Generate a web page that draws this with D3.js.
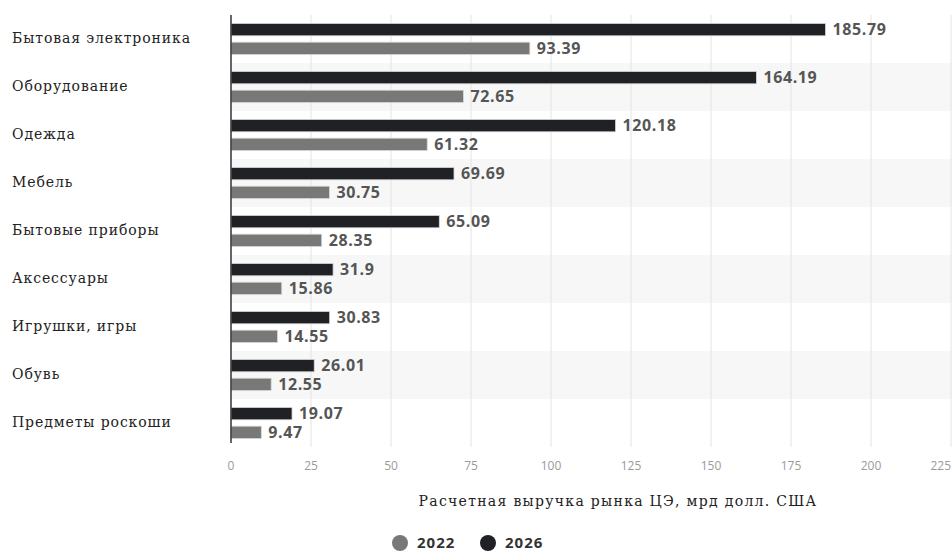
<!DOCTYPE html>
<html><head><meta charset="utf-8">
<script src="https://cdn.jsdelivr.net/npm/d3@7"></script>
<style>body{margin:0;background:#fff}svg{display:block}</style>
</head><body>
<svg id="c" width="952" height="554"></svg>
<script>
const categories = ["Бытовая электроника","Оборудование","Одежда","Мебель","Бытовые приборы","Аксессуары","Игрушки, игры","Обувь","Предметы роскоши"];
const values2026 = [185.79,164.19,120.18,69.69,65.09,31.9,30.83,26.01,19.07];
const values2022 = [93.39,72.65,61.32,30.75,28.35,15.86,14.55,12.55,9.47];
const xTicks = [0,25,50,75,100,125,150,175,200,225];
const seriesNames = ["2022","2026"];
const axisTitle = "Расчетная выручка рынка ЦЭ, мрд долл. США";

const svg = d3.select("#c");
const pLeft = 231, pRight = 951, pTop = 15, pBottom = 447;
const x = d3.scaleLinear().domain([0,225]).range([pLeft,pRight]);
const y = d3.scaleBand().domain(categories).range([pTop,pBottom]);
const inner = d3.scaleBand().domain(["2026","2022"]).range([0,y.bandwidth()]).paddingInner(0.34).paddingOuter(0.45);
const colors = {"2022":"#787878","2026":"#1f2125"};
const serif = "DejaVu Serif, serif";

// stripes
svg.append("g").selectAll("rect").data(categories.filter((d,i)=>i%2===1)).join("rect")
  .attr("x",pLeft).attr("width",pRight-pLeft+1).attr("y",d=>y(d)).attr("height",y.bandwidth()).attr("fill","#f7f7f7");

// gridlines
svg.append("g").selectAll("line").data(xTicks.slice(1)).join("line")
  .attr("x1",d=>x(d)).attr("x2",d=>x(d)).attr("y1",pTop).attr("y2",pBottom)
  .attr("stroke","#e3e3e3").attr("stroke-width",1);

// bars
const rows = svg.append("g").selectAll("g").data(categories).join("g").attr("transform",d=>`translate(0,${y(d)})`);
function drawSeries(key, vals){
  rows.append("rect")
    .attr("x",pLeft).attr("y",inner(key))
    .attr("width",(d,i)=>x(vals[i])-pLeft).attr("height",inner.bandwidth())
    .attr("fill",colors[key]).attr("stroke","#d8d8d8").attr("stroke-width",0.8);
  rows.append("text")
    .attr("x",(d,i)=>x(vals[i])+7).attr("y",inner(key)+inner.bandwidth()/2)
    .attr("dy","0.36em").attr("font-family","Open Sans, sans-serif").attr("font-weight","700")
    .attr("font-size","16px").attr("letter-spacing","0.6px").attr("fill","#555").text((d,i)=>vals[i]);
}
drawSeries("2026",values2026);
drawSeries("2022",values2022);

// axis line
svg.append("line").attr("x1",pLeft).attr("x2",pLeft).attr("y1",pTop).attr("y2",pBottom-4)
  .attr("stroke","#333").attr("stroke-width",1.5);

// category labels
svg.append("g").selectAll("text").data(categories).join("text")
  .attr("x",12).attr("y",d=>y(d)+y.bandwidth()/2-1).attr("dy","0.35em")
  .attr("font-family",serif).attr("font-size","14px").attr("letter-spacing","0.9px").attr("fill","#222")
  .text(d=>d);

// x tick labels
svg.append("g").selectAll("text").data(xTicks).join("text")
  .attr("x",d=>d===225?pRight:x(d)).attr("y",470)
  .attr("text-anchor",d=>d===225?"end":"middle")
  .attr("font-family","Open Sans, sans-serif").attr("font-size","12px").attr("fill","#9a9a9a")
  .text(d=>d);

// axis title
svg.append("text").attr("x",618).attr("y",506).attr("text-anchor","middle")
  .attr("font-family",serif).attr("font-size","14px").attr("letter-spacing","1.3px").attr("fill","#222")
  .text(axisTitle);

// legend
const lg = svg.append("g").selectAll("g").data(seriesNames).join("g")
  .attr("transform",(d,i)=>`translate(${400+i*88},543)`);
lg.append("circle").attr("r",8).attr("fill",d=>colors[d]);
lg.append("text").attr("x",17).attr("dy","0.36em")
  .attr("font-family","Open Sans, sans-serif").attr("font-weight","700").attr("font-size","15px").attr("letter-spacing","1px").attr("fill","#333")
  .text(d=>d);
</script>
</body></html>
